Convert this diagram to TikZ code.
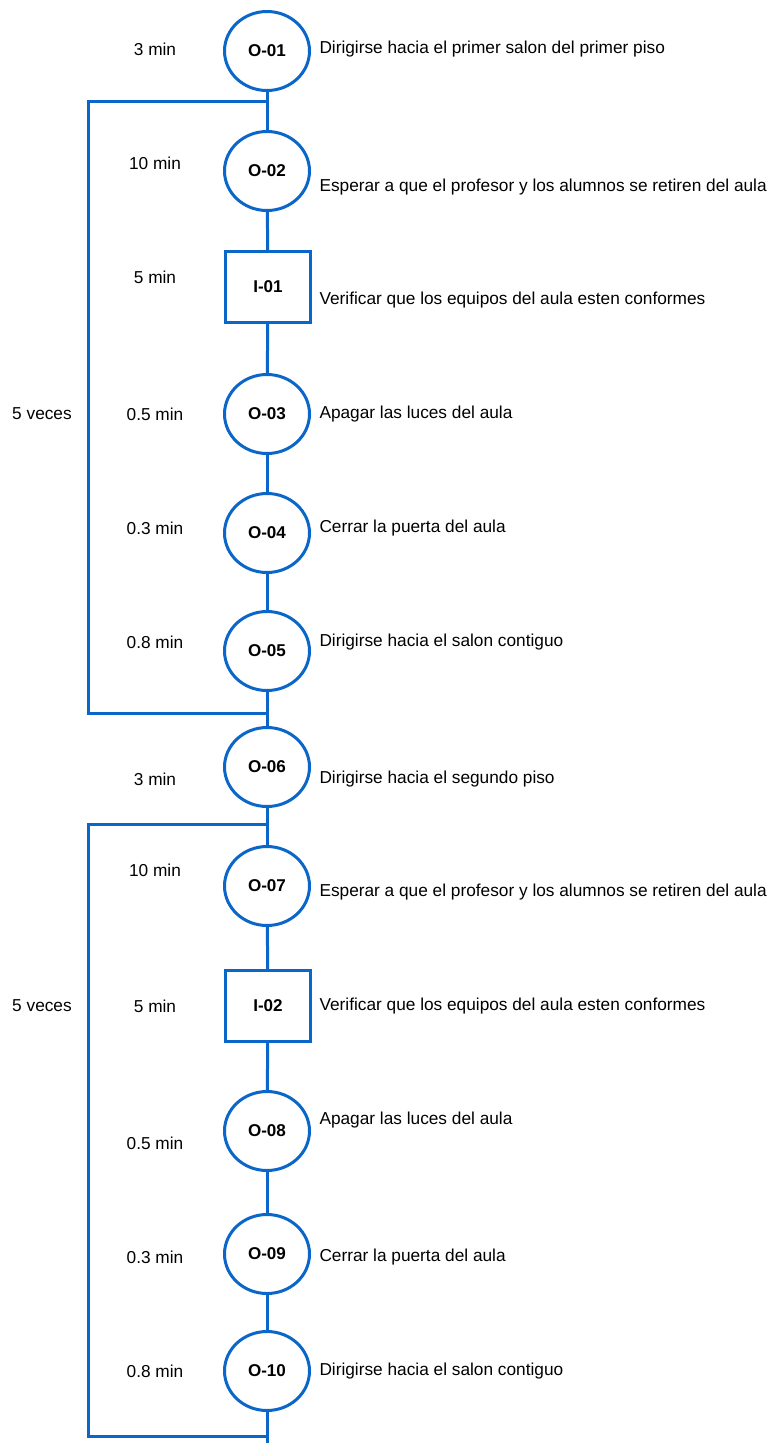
\documentclass[tikz,border=0pt]{standalone}
\usepackage{fontspec}
\setmainfont{Liberation Sans}
\usetikzlibrary{shapes,positioning}
\definecolor{flujo}{HTML}{0A66C8}

\begin{document}
\begin{tikzpicture}[x=0.75pt, y=-0.75pt, line width=2.25pt, every node/.style={font=\fontsize{12.95}{15}\selectfont}]
    \tikzstyle{oper} = [ellipse, draw=flujo, fill=white, minimum width=63.75pt, minimum height=59.25pt, inner sep=0pt, font=\fontsize{12.8}{14}\selectfont\bfseries]
    \tikzstyle{insp} = [rectangle, draw=flujo, fill=white, minimum width=63.75pt, minimum height=53.25pt, inner sep=0pt, font=\fontsize{12.8}{14}\selectfont\bfseries]
    \tikzstyle{tiempo} = [inner sep=0pt, anchor=center]
    \tikzstyle{desc} = [inner sep=0pt, anchor=west]
    \tikzstyle{linea} = [draw=flujo, line width=2.25pt]
    \useasboundingbox (0,0) rectangle (772,1443);

    % primer piso
    \node (o1) [oper] at (267,51) {O-01};
    \node (o2) [oper] at (267,171) {O-02};
    \node (i1) [insp] at (268,287) {I-01};
    \node (o3) [oper] at (267,414) {O-03};
    \node (o4) [oper] at (267,533) {O-04};
    \node (o5) [oper] at (267,651) {O-05};
    % segundo piso
    \node (o6) [oper] at (267,767) {O-06};
    \node (o7) [oper] at (267,886) {O-07};
    \node (i2) [insp] at (268,1006) {I-02};
    \node (o8) [oper] at (267,1131) {O-08};
    \node (o9) [oper] at (267,1254) {O-09};
    \node (o10) [oper] at (267,1371) {O-10};

    % tiempos
    \node (t1) [tiempo] at (155,49) {3 min};
    \node (t2) [tiempo] at (155,163) {10 min};
    \node (t3) [tiempo] at (155,277) {5 min};
    \node (t4) [tiempo] at (155,414) {0.5 min};
    \node (t5) [tiempo] at (155,528) {0.3 min};
    \node (t6) [tiempo] at (155,642) {0.8 min};
    \node (t7) [tiempo] at (155,779) {3 min};
    \node (t8) [tiempo] at (155,870) {10 min};
    \node (t9) [tiempo] at (155,1006) {5 min};
    \node (t10) [tiempo] at (155,1143) {0.5 min};
    \node (t11) [tiempo] at (155,1257) {0.3 min};
    \node (t12) [tiempo] at (155,1371) {0.8 min};

    % repeticiones
    \node (r1) [tiempo] at (42,414) {5 veces};
    \node (r2) [tiempo] at (42,1006) {5 veces};

    % descripciones
    \node (d1) [desc] at (318,49) {Dirigirse hacia el primer salon del primer piso};
    \node (d2) [desc] at (318,187) {Esperar a que el profesor y los alumnos se retiren del aula};
    \node (d3) [desc] at (318,300) {Verificar que los equipos del aula esten conformes};
    \node (d4) [desc] at (318,414) {Apagar las luces del aula};
    \node (d5) [desc] at (318,528) {Cerrar la puerta del aula};
    \node (d6) [desc] at (318,642) {Dirigirse hacia el salon contiguo};
    \node (d7) [desc] at (318,779) {Dirigirse hacia el segundo piso};
    \node (d8) [desc] at (318,892) {Esperar a que el profesor y los alumnos se retiren del aula};
    \node (d9) [desc] at (318,1006) {Verificar que los equipos del aula esten conformes};
    \node (d10) [desc] at (318,1120) {Apagar las luces del aula};
    \node (d11) [desc] at (318,1257) {Cerrar la puerta del aula};
    \node (d12) [desc] at (318,1371) {Dirigirse hacia el salon contiguo};

    % esquinas de los lazos
    \coordinate (a1) at (267,101);
    \coordinate (b1) at (88,101);
    \coordinate (c1) at (88,713);
    \coordinate (e1) at (267,713);
    \coordinate (a2) at (267,824);
    \coordinate (b2) at (88,824);
    \coordinate (c2) at (88,1436);
    \coordinate (e2) at (267,1436);
    \coordinate (fin) at (267,1443);

    \draw [linea] (o1) -- (o2);
    \draw [linea] (o2) -- (i1);
    \draw [linea] (i1) -- (o3);
    \draw [linea] (o3) -- (o4);
    \draw [linea] (o4) -- (o5);
    \draw [linea] (o5) -- (o6);
    \draw [linea] (o6) -- (o7);
    \draw [linea] (o7) -- (i2);
    \draw [linea] (i2) -- (o8);
    \draw [linea] (o8) -- (o9);
    \draw [linea] (o9) -- (o10);
    \draw [linea] (o10) -- (fin);
    \draw [linea] (a1) -- (b1) -- (c1) -- (e1);
    \draw [linea] (a2) -- (b2) -- (c2) -- (e2);

    \end{tikzpicture}
\end{document}
